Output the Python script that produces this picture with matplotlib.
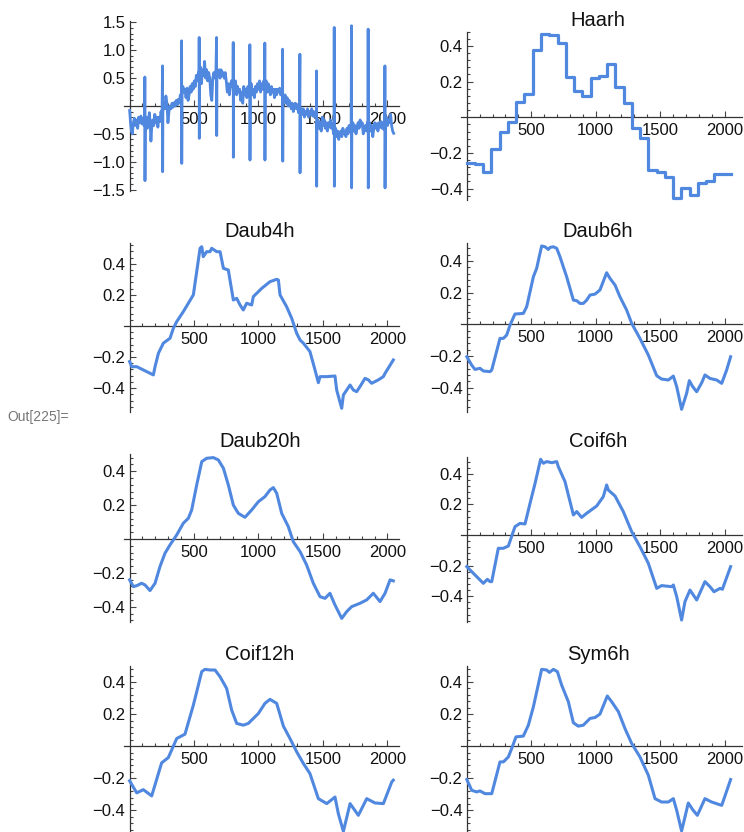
import numpy as np
import matplotlib.pyplot as plt
from matplotlib.ticker import FixedLocator

plt.rcParams['font.family'] = ['Liberation Sans', 'DejaVu Sans']

BLUE = '#5088e0'

# tín hiệu gốc có nhiễu (x, y)
raw_x = [1, 8, 15, 22, 30, 38, 46, 55, 63, 72, 80, 88, 96, 104, 112, 118,
         119, 120, 122, 130, 138, 146, 154, 160, 166, 172, 180, 188, 196, 204, 212, 220, 228, 236, 244, 252,
         256, 257, 259, 266, 274, 282, 290, 298, 306, 314, 322, 330, 338, 346, 354, 362, 370, 378, 386, 394, 402,
         404, 405, 407, 414, 422, 430, 438, 446, 454, 462, 470, 478, 486, 494, 502, 510, 518, 526, 534, 539,
         540, 541, 543, 550, 558, 566, 574, 582, 590, 598, 606, 614, 622, 630, 638, 646, 654, 662, 670,
         675, 676, 678, 686, 694, 702, 710, 718, 726, 734, 742, 750, 758, 766, 774, 782, 790, 798, 803,
         804, 805, 807, 814, 822, 830, 838, 846, 854, 862, 870, 878, 886, 894, 902, 910, 918, 926, 932,
         933, 934, 936, 944, 952, 960, 968, 976, 984, 992, 1000, 1008, 1016, 1024, 1032, 1040, 1048,
         1049, 1050, 1052, 1060, 1068, 1076, 1084, 1092, 1100, 1108, 1116, 1124, 1132, 1140, 1148, 1156, 1164,
         1172, 1180, 1186,
         1187, 1188, 1190, 1198, 1206, 1214, 1222, 1230, 1238, 1246, 1254, 1262, 1270, 1278, 1286, 1294, 1302,
         1310, 1318,
         1321, 1322, 1324, 1332, 1340, 1348, 1356, 1364, 1372, 1380, 1388, 1396, 1404, 1412, 1420, 1428, 1436,
         1444, 1449,
         1450, 1451, 1453, 1462, 1470, 1478, 1486, 1494, 1502, 1510, 1518, 1526, 1534, 1542, 1550, 1558, 1566,
         1574, 1582, 1586,
         1587, 1588, 1590, 1598, 1606, 1614, 1622, 1630, 1638, 1646, 1654, 1662, 1670, 1678, 1686, 1694, 1702,
         1710, 1718,
         1721, 1722, 1724, 1732, 1740, 1748, 1756, 1764, 1772, 1780, 1788, 1796, 1804, 1812, 1820, 1828, 1836,
         1844, 1849,
         1850, 1851, 1853, 1862, 1870, 1878, 1886, 1894, 1902, 1910, 1918, 1926, 1934, 1942, 1950, 1958, 1966,
         1974, 1979,
         1980, 1981, 1983, 1992, 2000, 2008, 2016, 2024, 2032, 2040, 2048]
raw_y = [-0.08, -0.3, -0.45, -0.5, -0.3, -0.22, -0.35, -0.25, -0.4, -0.2, -0.3, -0.18, -0.32, -0.22, -0.35, -0.28,
         0.52, -1.34, -0.35, -0.2, -0.4, -0.28, -0.12, -0.3, -0.63, -0.4, -0.25, -0.35, -0.15, -0.3, -0.2, -0.38,
         -0.2, -0.28, -0.1, -0.2,
         0.72, -1.18, -0.1, 0.05, -0.05, 0.18, 0.05, -0.3, -0.1, 0.0, -0.05, 0.05, -0.02, 0.06, 0.0, 0.1, 0.02,
         0.12, 0.05, 0.2, 0.15,
         1.17, -1.03, 0.2, 0.35, 0.25, 0.3, 0.15, 0.32, 0.1, 0.2, 0.35, 0.25, 0.4, 0.3, 0.45, 0.35, 0.55, 0.45,
         0.6, 0.5,
         1.23, -0.58, 0.5, 0.7, 0.4, 0.65, 0.55, 0.8, 0.5, 0.65, 0.45, 0.6, 0.5, 0.2, 0.1, 0.5, 0.6, 0.5, 0.65,
         1.23, -0.53, 0.6, 0.55, 0.65, 0.5, 0.65, 0.55, 0.6, 0.5, 0.6, 0.45, 0.25, 0.4, 0.2, 0.35, 0.45, 0.35, 0.5,
         1.14, -0.92, 0.4, 0.3, 0.45, 0.2, 0.35, 0.25, 0.3, 0.1, 0.25, 0.05, 0.35, 0.2, 0.3, 0.15, 0.35, 0.25, 0.3,
         1.10, -0.97, 0.3, 0.4, 0.2, 0.3, 0.15, 0.35, 0.25, 0.4, 0.3, 0.45, 0.25, 0.4, 0.3, 0.45, 0.35,
         1.13, -0.97, 0.35, 0.45, 0.25, 0.4, 0.3, 0.2, 0.35, 0.25, 0.3, 0.15, 0.3, 0.2, 0.3, 0.25, 0.32,
         0.2, 0.28, 0.2,
         1.02, -0.99, 0.2, 0.1, 0.2, 0.05, 0.15, 0.0, 0.1, 0.05, -0.05, 0.05, -0.1, 0.0, 0.05, -0.05, 0.02,
         -0.12, -0.02,
         0.93, -1.2, -0.1, -0.05, -0.15, -0.05, -0.2, -0.1, -0.15, -0.05, -0.2, -0.1, -0.15, -0.05, -0.18, -0.1,
         -0.2, -0.12, -0.2,
         0.63, -1.44, -0.3, -0.25, -0.4, -0.3, -0.45, -0.2, -0.35, -0.25, -0.4, -0.3, -0.45, -0.3, -0.38, -0.25,
         -0.4, -0.32, -0.5, -0.4,
         1.41, -1.44, -0.45, -0.4, -0.55, -0.45, -0.6, -0.5, -0.45, -0.55, -0.4, -0.5, -0.45, -0.55, -0.4, -0.5,
         -0.35, -0.45, -0.4,
         1.44, -1.47, -0.4, -0.3, -0.45, -0.35, -0.5, -0.4, -0.3, -0.4, -0.25, -0.35, -0.3, -0.5, -0.4, -0.35,
         -0.45, -0.3, -0.4,
         1.38, -1.47, -0.35, -0.3, -0.45, -0.35, -0.55, -0.4, -0.3, -0.4, -0.32, -0.45, -0.3, -0.38, -0.28, -0.4,
         -0.3, -0.42, -0.3,
         0.72, -1.47, -0.3, -0.2, -0.35, -0.25, -0.3, -0.15, -0.35, -0.45, -0.49]

# Haar: 32 bậc, mỗi bậc rộng 64 mẫu
haar_x = list(range(0, 2049, 64))
haar_y = [-0.258, -0.263, -0.309, -0.178, -0.081, -0.025, 0.088, 0.129, 0.377, 0.465, 0.462,
          0.418, 0.224, 0.149, 0.121, 0.219, 0.232, 0.299, 0.172, 0.079, -0.062, -0.118, -0.296,
          -0.305, -0.333, -0.454, -0.398, -0.436, -0.367, -0.356, -0.318, -0.320, -0.320]

daub4_x = [1, 17, 56, 185, 198, 224, 262, 314, 340, 366, 417, 495, 547, 560, 572, 598, 624, 637,
           676, 702, 728, 766, 805, 831, 857, 882, 908, 947, 960, 1025, 1089, 1141, 1154, 1167,
           1218, 1257, 1296, 1322, 1348, 1399, 1438, 1464, 1477, 1503, 1529, 1593, 1606, 1645,
           1658, 1684, 1710, 1735, 1761, 1787, 1826, 1852, 1877, 1903, 1929, 1968, 1981, 2045]
daub4_y = [-0.229, -0.262, -0.262, -0.315, -0.262, -0.176, -0.111, -0.079, -0.015, 0.028, 0.092,
           0.2, 0.5, 0.51, 0.446, 0.478, 0.478, 0.5, 0.478, 0.478, 0.371, 0.36, 0.167, 0.178,
           0.135, 0.103, 0.146, 0.135, 0.189, 0.242, 0.285, 0.3, 0.296, 0.2, 0.124, 0.05, -0.047,
           -0.09, -0.111, -0.165, -0.283, -0.365, -0.326, -0.326, -0.326, -0.322, -0.412, -0.53,
           -0.444, -0.412, -0.38, -0.412, -0.423, -0.39, -0.337, -0.347, -0.369, -0.358, -0.347,
           -0.326, -0.305, -0.219]

daub6_x = [1, 38, 64, 103, 129, 181, 194, 258, 284, 310, 336, 374, 439, 465, 517, 542, 581, 607,
           633, 646, 672, 698, 723, 775, 827, 853, 878, 904, 930, 956, 995, 1033, 1085, 1111, 1150,
           1188, 1240, 1279, 1343, 1408, 1473, 1511, 1563, 1602, 1628, 1666, 1705, 1726, 1752,
           1783, 1822, 1847, 1886, 1938, 1977, 2015, 2046]
daub6_y = [-0.205, -0.257, -0.285, -0.278, -0.295, -0.299, -0.289, -0.089, -0.089, -0.068,
           -0.005, 0.065, 0.069, 0.111, 0.301, 0.353, 0.495, 0.49, 0.473, 0.486, 0.49, 0.48,
           0.427, 0.3, 0.153, 0.149, 0.132, 0.132, 0.153, 0.185, 0.191, 0.217, 0.326, 0.29, 0.248,
           0.174, 0.09, 0.006, -0.089, -0.194, -0.325, -0.346, -0.352, -0.327, -0.394, -0.537,
           -0.436, -0.356, -0.394, -0.426, -0.369, -0.32, -0.342, -0.352, -0.373, -0.289, -0.205]

daub20_x = [1, 30, 56, 94, 120, 159, 198, 236, 275, 314, 366, 417, 456, 482, 521, 560, 598, 650,
            689, 728, 766, 805, 844, 895, 947, 999, 1050, 1089, 1115, 1141, 1180, 1231, 1270, 1322,
            1373, 1425, 1477, 1516, 1554, 1593, 1645, 1684, 1722, 1787, 1839, 1890, 1942, 1981,
            2020, 2045]
daub20_y = [-0.241, -0.281, -0.275, -0.261, -0.271, -0.304, -0.261, -0.163, -0.084, -0.035,
            0.024, 0.093, 0.122, 0.171, 0.319, 0.456, 0.476, 0.48, 0.466, 0.417, 0.319, 0.2,
            0.151, 0.128, 0.171, 0.22, 0.25, 0.289, 0.303, 0.27, 0.151, 0.073, -0.016, -0.074,
            -0.153, -0.261, -0.34, -0.35, -0.32, -0.389, -0.468, -0.428, -0.399, -0.379, -0.359,
            -0.32, -0.369, -0.32, -0.241, -0.247]

coif6_x = [1, 52, 90, 129, 160, 181, 194, 245, 284, 323, 374, 413, 452, 491, 530, 573, 594, 620,
           659, 698, 710, 762, 827, 853, 891, 930, 1008, 1059, 1085, 1098, 1150, 1214, 1279, 1343,
           1408, 1473, 1511, 1589, 1602, 1628, 1666, 1692, 1731, 1783, 1847, 1886, 1917, 1964,
           1982, 2046]
coif6_y = [-0.207, -0.251, -0.283, -0.316, -0.29, -0.305, -0.305, -0.087, -0.087, -0.072, 0.054,
           0.076, 0.072, 0.207, 0.338, 0.495, 0.469, 0.48, 0.473, 0.48, 0.447, 0.349, 0.131,
           0.153, 0.115, 0.142, 0.19, 0.251, 0.327, 0.294, 0.255, 0.153, 0.022, -0.076, -0.185,
           -0.349, -0.331, -0.338, -0.327, -0.403, -0.556, -0.436, -0.36, -0.425, -0.305, -0.338,
           -0.371, -0.349, -0.355, -0.207]

coif12_x = [1, 56, 107, 172, 249, 301, 366, 430, 495, 560, 585, 624, 663, 702, 753, 792, 831,
            882, 921, 999, 1050, 1089, 1141, 1193, 1244, 1296, 1348, 1399, 1464, 1529, 1593, 1619,
            1658, 1710, 1774, 1839, 1903, 1968, 2033, 2045]
coif12_y = [-0.216, -0.291, -0.271, -0.31, -0.104, -0.071, 0.048, 0.075, 0.256, 0.465, 0.479,
            0.475, 0.475, 0.433, 0.36, 0.225, 0.142, 0.131, 0.142, 0.204, 0.267, 0.292, 0.267,
            0.125, 0.048, -0.035, -0.108, -0.171, -0.327, -0.358, -0.317, -0.421, -0.531, -0.358,
            -0.431, -0.327, -0.354, -0.358, -0.223, -0.212]

sym6_x = [1, 39, 77, 103, 142, 194, 258, 284, 323, 349, 382, 439, 478, 517, 581, 620, 641, 672,
          703, 736, 788, 827, 865, 904, 956, 995, 1033, 1090, 1124, 1176, 1227, 1279, 1343, 1408,
          1460, 1511, 1563, 1602, 1628, 1666, 1718, 1752, 1788, 1847, 1899, 1977, 2046]
sym6_y = [-0.208, -0.275, -0.285, -0.279, -0.296, -0.296, -0.098, -0.098, -0.067, -0.014, 0.058,
          0.063, 0.131, 0.246, 0.479, 0.475, 0.46, 0.479, 0.465, 0.381, 0.277, 0.146, 0.125,
          0.131, 0.173, 0.179, 0.2, 0.313, 0.277, 0.215, 0.11, 0.017, -0.067, -0.181, -0.327,
          -0.348, -0.348, -0.327, -0.4, -0.529, -0.354, -0.396, -0.431, -0.327, -0.348, -0.369,
          -0.208]

titles = ["", "Haarh", "Daub4h", "Daub6h", "Daub20h", "Coif6h", "Coif12h", "Sym6h"]
series = [(raw_x, raw_y), (haar_x, haar_y), (daub4_x, daub4_y), (daub6_x, daub6_y),
          (daub20_x, daub20_y), (coif6_x, coif6_y), (coif12_x, coif12_y), (sym6_x, sym6_y)]

W, H = 744, 832
fig = plt.figure(figsize=(W / 100, H / 100), dpi=100)

# vị trí khung (px): trái, trên, phải, dưới ; và ylim
boxes = [(123.7, 21.3, 399.1, 190.7), (460.9, 31.7, 742.1, 200.2),
         (123.7, 243.3, 399.1, 412.2), (460.9, 243.3, 742.1, 412.3),
         (123.7, 454.2, 399.1, 622.1), (460.9, 456.7, 742.1, 622.0),
         (123.7, 666.0, 399.1, 832.4), (460.9, 666.0, 742.1, 832.4)]
ylims = [(-1.52, 1.52), (-0.465, 0.48), (-0.555, 0.532), (-0.556, 0.512),
         (-0.49, 0.5), (-0.569, 0.512), (-0.5375, 0.5), (-0.5375, 0.5)]
title_pos = [None, (598, 20), (260, 231.7), (598, 231.7), (260, 441.7), (598, 441.7),
             (260, 654.3), (598, 654.0)]

for i, ((xs, ys), box, yl) in enumerate(zip(series, boxes, ylims)):
    l, t, r, b = box
    ax = fig.add_axes([l / W, 1 - b / H, (r - l) / W, (b - t) / H])
    ax.patch.set_alpha(0)
    if i == 1:
        ax.plot(xs, ys, drawstyle='steps-post', color=BLUE, lw=2.3, zorder=3, clip_on=False)
    elif i == 0:
        ax.plot(xs, ys, color=BLUE, lw=2.0, zorder=3, clip_on=False)
    else:
        ax.plot(xs, ys, color=BLUE, lw=2.2, zorder=3, clip_on=False, solid_joinstyle='round')

    xmax = 2090 if i % 2 == 0 else 2135
    ax.set_xlim(-45, xmax)
    ax.set_ylim(*yl)

    for s in ['top', 'right']:
        ax.spines[s].set_visible(False)
    ax.spines['left'].set_position(('data', 0))
    ax.spines['bottom'].set_position(('data', 0))
    for s in ['left', 'bottom']:
        ax.spines[s].set_color('#333333')
        ax.spines[s].set_linewidth(0.9)

    ax.xaxis.set_major_locator(FixedLocator([500, 1000, 1500, 2000]))
    ax.xaxis.set_minor_locator(FixedLocator([v for v in range(100, 2100, 100) if v % 500]))
    if i == 0:
        ax.set_yticks([-1.5, -1.0, -0.5, 0.5, 1.0, 1.5])
        ax.set_yticklabels(["\u22121.5", "\u22121.0", "\u22120.5", "0.5", "1.0", "1.5"])
        mn = [k / 10 for k in range(-15, 16) if k % 5]
    else:
        ax.set_yticks([-0.4, -0.2, 0.2, 0.4])
        ax.set_yticklabels(["\u22120.4", "\u22120.2", "0.2", "0.4"])
        mn = [k * 0.04 for k in range(-14, 14) if k % 5 and yl[0] <= k * 0.04 <= yl[1]]
    ax.yaxis.set_minor_locator(FixedLocator(mn))

    ax.tick_params(which='both', direction='in', color='#444444', width=0.8, labelsize=12,
                   labelcolor='#111111')
    ax.tick_params(which='major', length=4.5)
    ax.tick_params(which='minor', length=2.5)
    ax.tick_params(axis='x', pad=4)
    ax.tick_params(axis='y', pad=3)

    if title_pos[i] is not None:
        fig.text(title_pos[i][0] / W, 1 - title_pos[i][1] / H, titles[i], fontsize=14.5,
                 ha='center', va='center', color='#111111')

fig.text(7 / W, 1 - 416.7 / H, "Out[225]=", fontsize=10, color='#777777', ha='left', va='center')

plt.savefig('out.png', dpi=100)
